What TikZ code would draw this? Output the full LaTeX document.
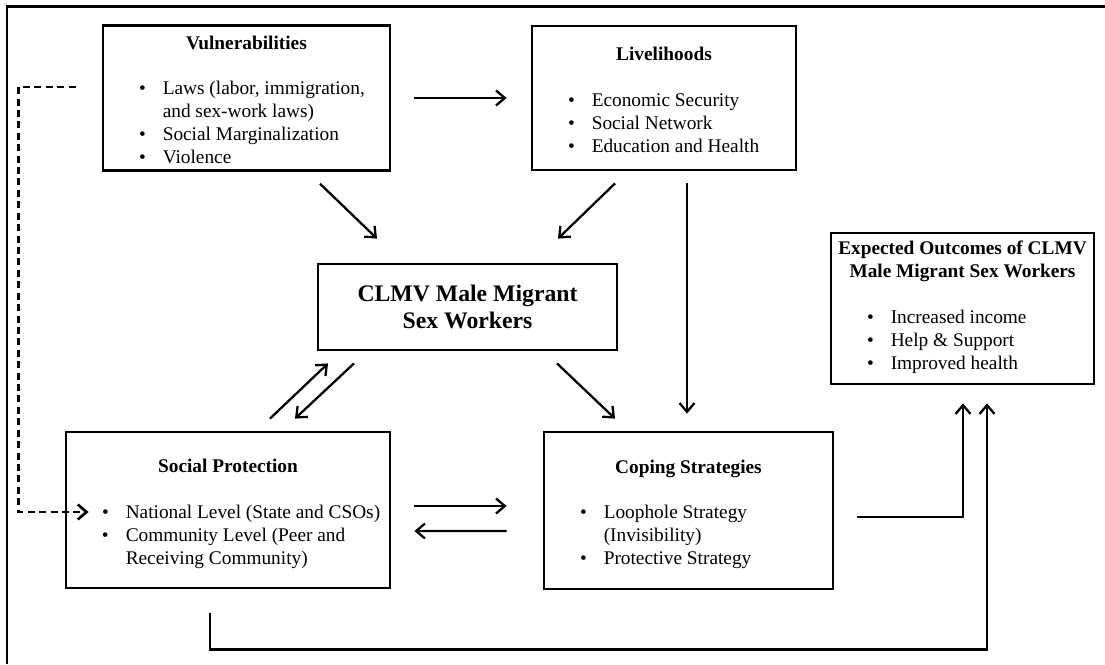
\documentclass[tikz,border=0pt]{standalone}
\usepackage{fontspec}
\setmainfont{Liberation Serif}
\usetikzlibrary{arrows.meta}
\newlength{\pxl}
\setlength{\pxl}{0.02cm}
\tikzstyle{box} = [rectangle, draw=black, line width=1.6pt, inner sep=0pt, font=\fontsize{11}{13}\selectfont]
\tikzstyle{arrow} = [line width=1.3pt, -{Straight Barb[length=5pt,width=8.5pt]}]
\tikzstyle{frame} = [line width=1.7pt]
% box text: [top pad], width, title, bullet rows
\newcommand{\boxtext}[4][10]{\parbox{#2\pxl}{\vspace*{#1\pxl}\centering\textbf{#3}\par\vspace{23\pxl}\raggedright\hspace*{36\pxl}\begin{tabular}[t]{@{}l@{\hspace{17\pxl}}l@{}}#4\end{tabular}}}

\begin{document}
\begin{tikzpicture}[x=\pxl, y=-\pxl]
    \useasboundingbox (0,0) rectangle (1105,664);
    \draw [frame] (7,664) -- (7,6) -- (1105,6);

    \node (vuln) [box, minimum width=287\pxl, minimum height=144\pxl] at (246.5,98)
      {\boxtext{287}{Vulnerabilities}{\textbullet & Laws (labor, immigration,\\ & and sex-work laws)\\ \textbullet & Social Marginalization\\ \textbullet & Violence}};
    \node (liv) [box, minimum width=264\pxl, minimum height=144\pxl] at (664,98)
      {\boxtext{264}{Livelihoods}{\textbullet & Economic Security\\ \textbullet & Social Network\\ \textbullet & Education and Health}};
    \node (clmv) [box, align=center, minimum width=299\pxl, minimum height=86\pxl, font=\fontsize{13.5}{15}\selectfont\bfseries] at (467.5,307)
      {CLMV Male Migrant\\Sex Workers};
    \node (outc) [box, minimum width=263\pxl, minimum height=151\pxl] at (962.5,308.5)
      {\boxtext[0]{263}{Expected Outcomes of CLMV\\Male Migrant Sex Workers}{\textbullet & Increased income\\ \textbullet & Help \& Support\\ \textbullet & Improved health}};
    \node (socp) [box, minimum width=324\pxl, minimum height=156\pxl] at (228,510)
      {\boxtext{324}{Social Protection}{\textbullet & National Level (State and CSOs)\\ \textbullet & Community Level (Peer and\\ & Receiving Community)}};
    \node (cope) [box, minimum width=289\pxl, minimum height=157\pxl] at (688.5,510.5)
      {\boxtext{289}{Coping Strategies}{\textbullet & Loophole Strategy\\ & (Invisibility)\\ \textbullet & Protective Strategy}};

    \draw [arrow] ([shift={(23,0)}]vuln.east) -- ([shift={(-24,0)}]liv.west);
    \draw [arrow] ([shift={(73.5,12)}]vuln.south) -- ([shift={(-90.5,-24)}]clmv.north);
    \draw [arrow] ([shift={(-49,12)}]liv.south) -- ([shift={(90.5,-24)}]clmv.north);
    \draw [arrow] ([shift={(23,12)}]liv.south) -- ([shift={(-1.5,-17)}]cope.north);
    \draw [arrow] ([shift={(89.5,12)}]clmv.south) -- ([shift={(-73.5,-12)}]cope.north);
    \draw [arrow] ([shift={(42,-12)}]socp.north) -- ([shift={(-139.5,12)}]clmv.south);
    \draw [arrow] ([shift={(-113.5,12)}]clmv.south) -- ([shift={(67,-12)}]socp.north);
    \draw [arrow] ([shift={(23,-4)}]socp.east) -- ([shift={(-36,-4.5)}]cope.west);
    \draw [arrow] ([shift={(-36,20.5)}]cope.west) -- ([shift={(23,21)}]socp.east);
    \draw [arrow] ([shift={(23,6.5)}]cope.east) -| ([shift={(0.5,18)}]outc.south);
    \draw [arrow] ([shift={(-18,24)}]socp.south) -- ++(0,36) -| ([shift={(24.5,18)}]outc.south);
    \draw [arrow, line width=1.5pt, dash pattern=on 4pt off 2.5pt] ([shift={(-26,-11)}]vuln.west) -- ++(-57,0) |- ([shift={(24,2)}]socp.west);
\end{tikzpicture}
\end{document}
